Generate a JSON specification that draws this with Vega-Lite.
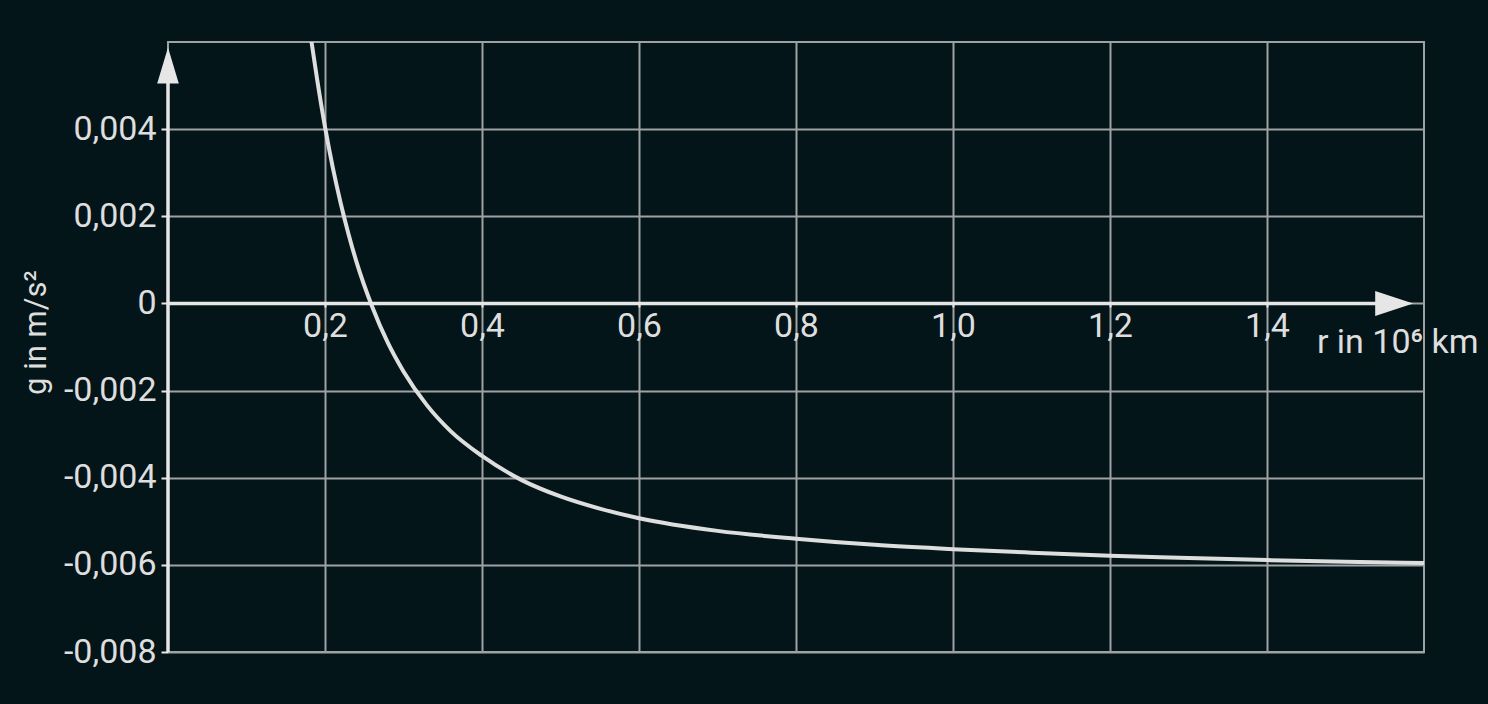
{
  "$schema": "https://vega.github.io/schema/vega-lite/v6.json",
  "width": 1256,
  "height": 610,
  "autosize": {"type": "none"},
  "padding": {"left": 168, "top": 42, "right": 64, "bottom": 52},
  "background": "#04151a",
  "config": {
    "view": {"stroke": "#9da2a2", "strokeWidth": 2},
    "font": "Roboto",
    "axis": {
      "domain": false,
      "grid": true,
      "gridColor": "#9da2a2",
      "gridWidth": 2,
      "gridOpacity": 1,
      "tickColor": "#e6e6e6",
      "tickWidth": 2,
      "labelColor": "#dedede",
      "labelFont": "Roboto",
      "labelFontSize": 34,
      "titleColor": "#dedede",
      "titleFont": "Roboto",
      "titleFontWeight": "normal"
    }
  },
  "datasets": {
    "curve": [
      {"r": 0.182, "g": 0.0061},
      {"r": 0.19, "g": 0.00514},
      {"r": 0.20, "g": 0.00405},
      {"r": 0.21, "g": 0.00311},
      {"r": 0.22, "g": 0.0023},
      {"r": 0.23, "g": 0.00159},
      {"r": 0.24, "g": 0.00096},
      {"r": 0.26, "g": -0.00007},
      {"r": 0.28, "g": -0.0009},
      {"r": 0.30, "g": -0.00156},
      {"r": 0.33, "g": -0.00234},
      {"r": 0.36, "g": -0.00293},
      {"r": 0.40, "g": -0.0035},
      {"r": 0.45, "g": -0.00405},
      {"r": 0.50, "g": -0.00443},
      {"r": 0.55, "g": -0.00471},
      {"r": 0.60, "g": -0.00493},
      {"r": 0.70, "g": -0.00522},
      {"r": 0.80, "g": -0.0054},
      {"r": 0.90, "g": -0.00554},
      {"r": 1.00, "g": -0.00564},
      {"r": 1.10, "g": -0.00572},
      {"r": 1.20, "g": -0.00579},
      {"r": 1.30, "g": -0.00584},
      {"r": 1.40, "g": -0.00589},
      {"r": 1.50, "g": -0.00593},
      {"r": 1.60, "g": -0.00596}
    ],
    "axislines": [
      {"x0": 0, "x1": 1.56, "y0": 0, "y1": 0},
      {"x0": 0, "x1": 0, "y0": -0.008, "y1": 0.0054}
    ],
    "arrows": [
      {"x": 1.562, "y": 0, "dir": "right"},
      {"x": 0, "y": 0.00546, "dir": "up"}
    ]
  },
  "layer": [
    {
      "data": {"name": "curve"},
      "mark": {"type": "line", "clip": true, "stroke": "#dedede", "strokeWidth": 4, "interpolate": "monotone"},
      "encoding": {
        "x": {
          "field": "r", "type": "quantitative",
          "scale": {"domain": [0, 1.6], "nice": false, "zero": false},
          "axis": {
            "title": "r in 10⁶ km",
            "values": [0.2, 0.4, 0.6, 0.8, 1.0, 1.2, 1.4],
            "offset": -350,
            "tickSize": 5,
            "labelPadding": 2,
            "labelDx": -5,
            "labelExpr": "replace(format(datum.value, '.1f'), '.', ',')",
            "titleFontSize": 34,
            "titleX": 1310,
            "titleY": 50,
            "titleAlign": "right",
            "titleBaseline": "alphabetic",
            "titleAngle": 0
          }
        },
        "y": {
          "field": "g", "type": "quantitative",
          "scale": {"domain": [-0.008, 0.006], "nice": false, "zero": false},
          "axis": {
            "title": "g in m/s²",
            "values": [-0.008, -0.006, -0.004, -0.002, 0, 0.002, 0.004],
            "tickSize": 7,
            "labelPadding": 5,
            "labelExpr": "datum.value == 0 ? '0' : replace(replace(format(datum.value, '.3f'), '.', ','), '−', '-')",
            "titleFontSize": 31,
            "titleX": -132,
            "titleY": 290,
            "titleAngle": -90,
            "titleAlign": "center",
            "titleBaseline": "middle"
          }
        }
      }
    },
    {
      "data": {"name": "axislines"},
      "mark": {"type": "rule", "stroke": "#e6e6e6", "strokeWidth": 3.5},
      "encoding": {
        "x": {"field": "x0", "type": "quantitative"},
        "x2": {"field": "x1"},
        "y": {"field": "y0", "type": "quantitative"},
        "y2": {"field": "y1"}
      }
    },
    {
      "data": {"name": "arrows"},
      "transform": [{"filter": "datum.dir == 'right'"}],
      "mark": {"type": "point", "filled": true, "opacity": 1, "color": "#e6e6e6", "shape": "M-1,-0.66L1,0L-1,0.66Z", "size": 1444, "strokeWidth": 0},
      "encoding": {
        "x": {"field": "x", "type": "quantitative"},
        "y": {"field": "y", "type": "quantitative"}
      }
    },
    {
      "data": {"name": "arrows"},
      "transform": [{"filter": "datum.dir == 'up'"}],
      "mark": {"type": "point", "filled": true, "opacity": 1, "color": "#e6e6e6", "shape": "M-0.6,1L0,-1L0.6,1Z", "size": 1296, "strokeWidth": 0},
      "encoding": {
        "x": {"field": "x", "type": "quantitative"},
        "y": {"field": "y", "type": "quantitative"}
      }
    }
  ]
}
